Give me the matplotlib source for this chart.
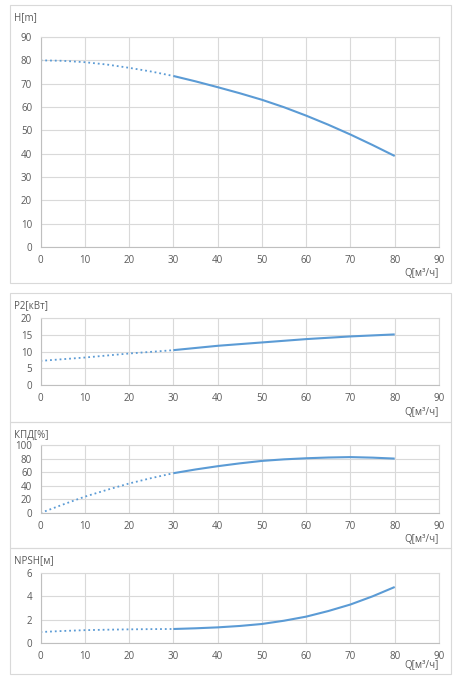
import matplotlib
matplotlib.use('Agg')
import matplotlib.pyplot as plt
from matplotlib.patches import Rectangle

plt.rcParams['font.family'] = ['Open Sans', 'DejaVu Sans']

# данные (шаг 5 м³/ч)
Q = [0, 5, 10, 15, 20, 25, 30, 35, 40, 45, 50, 55, 60, 65, 70, 75, 80]
H = [80, 79.8, 79.2, 78.2, 76.8, 75.2, 73.3, 71.0, 68.5, 65.9, 63.1, 59.9,
     56.3, 52.4, 48.2, 43.7, 39.0]
P2 = [7.2, 7.7, 8.2, 8.8, 9.4, 9.9, 10.4, 11.05, 11.7, 12.2, 12.7, 13.2,
      13.7, 14.1, 14.5, 14.8, 15.1]
KPD = [0, 12.3, 24, 34, 43.4, 51.3, 58.5, 64, 68.8, 73, 76.6, 78.9,
       80.5, 81.6, 82.2, 81.4, 80.0]
NPSH = [0.94, 1.03, 1.1, 1.14, 1.17, 1.19, 1.2, 1.26, 1.34, 1.46, 1.63, 1.91,
        2.26, 2.74, 3.3, 4.0, 4.8]

Q_TICKS = [0, 10, 20, 30, 40, 50, 60, 70, 80, 90]
panels = [
    ('H[m]', H, [0, 10, 20, 30, 40, 50, 60, 70, 80, 90]),
    ('P2[кВт]', P2, [0, 5, 10, 15, 20]),
    ('КПД[%]', KPD, [0, 20, 40, 60, 80, 100]),
    ('NPSH[м]', NPSH, [0, 2, 4, 6]),
]

W, Hpx = 457, 679
# (верх, низ) области построения и рамки, в пикселях
plot_rows = [(37, 247), (318, 385), (445, 513), (573, 643)]
box_rows = [(5, 283), (293, 422), (422, 548), (548, 674)]
X0, X1 = 40.5, 439

BLUE = '#5B9BD5'
GRID = '#D9D9D9'
TXT = '#595959'

fig = plt.figure(figsize=(W / 100, Hpx / 100), dpi=100)

for (top, bot) in box_rows:
    fig.patches.append(Rectangle((10 / W, 1 - bot / Hpx), 441 / W, (bot - top) / Hpx,
                                 transform=fig.transFigure, fill=False,
                                 edgecolor=GRID, lw=0.8))

split = Q.index(30)
for (label, vals, yt), (top, bot), (btop, bbot) in zip(panels, plot_rows, box_rows):
    ax = fig.add_axes([X0 / W, 1 - bot / Hpx, (X1 - X0) / W, (bot - top) / Hpx])
    ax.plot(Q[:split + 1], vals[:split + 1], ':', color=BLUE, lw=1.3)
    ax.plot(Q[split:], vals[split:], '-', color=BLUE, lw=1.5,
            solid_capstyle='butt', solid_joinstyle='round')
    ax.set_xlim(0, 90)
    ax.set_ylim(yt[0], yt[-1])
    ax.set_xticks(Q_TICKS)
    ax.set_yticks(yt)
    ax.grid(True, color=GRID, lw=0.8)
    ax.set_axisbelow(True)
    for s in ax.spines.values():
        s.set_color(GRID)
        s.set_linewidth(0.8)
    ax.spines['left'].set_color('#BFBFBF')
    ax.spines['bottom'].set_color('#BFBFBF')
    ax.tick_params(length=0, labelsize=7, labelcolor=TXT, pad=6)
    fig.text(14 / W, 1 - (btop + 13) / Hpx, label, fontsize=7, color=TXT,
             ha='left', va='center')
    fig.text(X1 / W, 1 - (bbot - 9) / Hpx, 'Q[м³/ч]', fontsize=7, color=TXT,
             ha='right', va='center')

fig.savefig('out.png', dpi=100, facecolor='white')
